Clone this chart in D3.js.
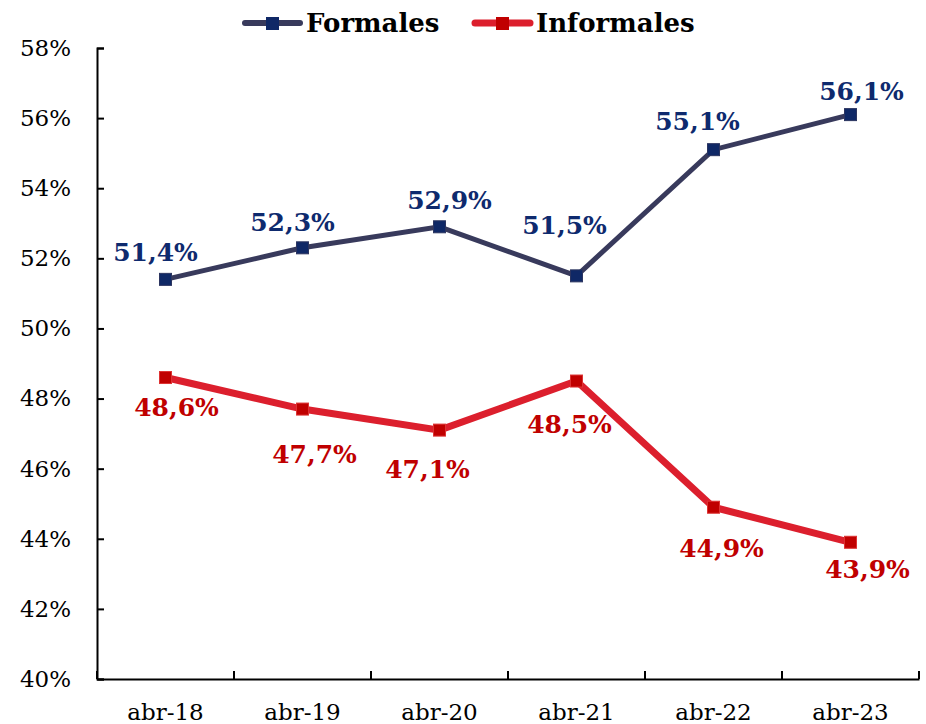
<!DOCTYPE html>
<html><head><meta charset="utf-8">
<script src="https://cdn.jsdelivr.net/npm/d3@7"></script>
<style>body{margin:0;background:#fff}svg{display:block}</style>
</head><body>
<script>
const categories = ["abr-18","abr-19","abr-20","abr-21","abr-22","abr-23"];
const formales = [51.4, 52.3, 52.9, 51.5, 55.1, 56.1];
const informales = [48.6, 47.7, 47.1, 48.5, 44.9, 43.9];
const yTicks = [40,42,44,46,48,50,52,54,56,58];
const seriesNames = ["Formales","Informales"];

// label nudges (layout only)
const fNudge = [[-10,-18],[-10,-17],[10,-18],[-12,-42],[-16,-20],[11,-15]];
const iNudge = [[11,38],[12,54],[-12,48],[-7,52],[8,50],[17,36]];

const W=926,H=724, L=97, R=919, T=48, B=679;
const serif = "'DejaVu Serif', serif";
const svg = d3.select("body").append("svg").attr("width",W).attr("height",H);

const x = d3.scaleBand().domain(categories).range([L,R]);
const y = d3.scaleLinear().domain([40,58]).range([B,T]);

// axes
const yAxis = d3.axisLeft(y).tickValues(yTicks).tickSize(-7).tickPadding(26)
  .tickFormat(d=>d+"%");
const gy = svg.append("g").attr("transform",`translate(${L},0)`).call(yAxis);
gy.select(".domain").attr("stroke","#000").attr("stroke-width",2);
gy.selectAll(".tick line").attr("stroke","#000").attr("stroke-width",2);
gy.selectAll(".tick text").attr("font-family",serif).attr("font-size",23).attr("fill","#000");

const xAxis = d3.axisBottom(x).tickSize(0).tickPadding(25);
const gx = svg.append("g").attr("transform",`translate(0,${B})`).call(xAxis);
gx.select(".domain").attr("stroke","#000").attr("stroke-width",2);
gx.selectAll(".tick text").attr("font-family",serif).attr("font-size",23).attr("fill","#000");
// category boundary ticks
const bounds = categories.map(c=>x(c)+x.bandwidth()).concat([x(categories[0])]);
svg.append("g").selectAll("line").data(bounds).join("line")
  .attr("x1",d=>d).attr("x2",d=>d).attr("y1",B).attr("y2",B-8)
  .attr("stroke","#000").attr("stroke-width",2);

const cx = c=>x(c)+x.bandwidth()/2;

function drawSeries(vals, lineColor, lw, markColor, markStroke, labColor, nudge){
  const pts = vals.map((v,i)=>({c:categories[i],v,i}));
  svg.append("path").datum(pts)
    .attr("d",d3.line().x(d=>cx(d.c)).y(d=>y(d.v)))
    .attr("fill","none").attr("stroke",lineColor).attr("stroke-width",lw)
    .attr("stroke-linejoin","miter");
  svg.append("g").selectAll("rect").data(pts).join("rect")
    .attr("x",d=>cx(d.c)-6).attr("y",d=>y(d.v)-6).attr("width",12).attr("height",12)
    .attr("fill",markColor).attr("stroke",markStroke).attr("stroke-width",1);
  svg.append("g").selectAll("text").data(pts).join("text")
    .attr("x",d=>cx(d.c)+nudge[d.i][0]).attr("y",d=>y(d.v)+nudge[d.i][1])
    .attr("text-anchor","middle").attr("font-family",serif).attr("font-weight","bold")
    .attr("font-size",25).attr("fill",labColor)
    .text(d=>d3.format(".1f")(d.v).replace(".",",")+"%");
}
drawSeries(formales,"#383a5c",5,"#0f2866","#2c3560","#0e2a6e",fNudge);
drawSeries(informales,"#dc1f2d",7,"#c00000","#d33","#c00000",iNudge);

// legend
const legend = [
  {name:seriesNames[0], x0:245, lc:"#383a5c", lw:6, mc:"#0f2866"},
  {name:seriesNames[1], x0:475, lc:"#dc1f2d", lw:7, mc:"#c00000"}
];
const lg = svg.append("g");
legend.forEach(d=>{
  lg.append("line").attr("x1",d.x0).attr("x2",d.x0+55).attr("y1",23).attr("y2",23)
    .attr("stroke",d.lc).attr("stroke-width",d.lw).attr("stroke-linecap","round");
  lg.append("rect").attr("x",d.x0+21).attr("y",17).attr("width",13).attr("height",13).attr("fill",d.mc);
  lg.append("text").attr("x",d.x0+61).attr("y",32).attr("font-family",serif)
    .attr("font-weight","bold").attr("font-size",26).attr("fill","#000").text(d.name);
});
</script>
</body></html>
